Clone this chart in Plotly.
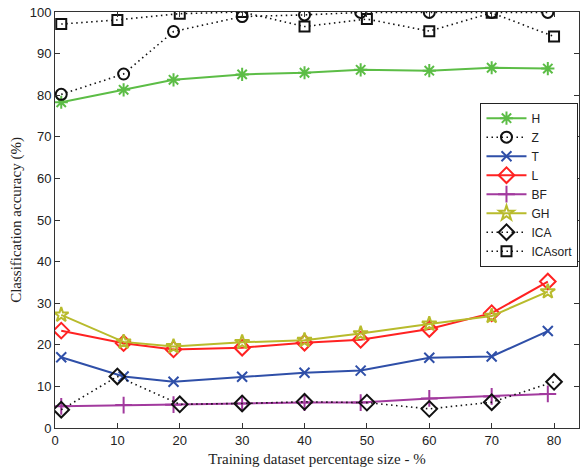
import plotly.graph_objects as go

# Training set sizes (%) for the two groups of methods
x_main = [1, 11, 19, 30, 40, 49, 60, 70, 79]
x_ica = [1, 10, 20, 30, 40, 50, 60, 70, 80]

# Classification accuracy (%) per method
acc_H = [78.3, 81.3, 83.7, 85.0, 85.4, 86.1, 85.9, 86.6, 86.4]
acc_Z = [80.2, 85.1, 95.3, 98.9, 99.3, 99.9, 99.9, 99.9, 99.9]
acc_T = [17.0, 12.4, 11.1, 12.3, 13.3, 13.8, 16.9, 17.2, 23.3]
acc_L = [23.4, 20.4, 18.9, 19.3, 20.5, 21.2, 23.8, 27.6, 35.2]
acc_BF = [5.2, 5.5, 5.6, 5.9, 6.1, 6.1, 7.1, 7.6, 8.2]
acc_GH = [27.2, 20.7, 19.6, 20.6, 21.1, 22.7, 25.0, 26.9, 32.8]
acc_ICA = [4.4, 12.4, 5.7, 5.9, 6.3, 6.1, 4.6, 6.2, 11.1]
acc_ICAsort = [97.1, 98.1, 99.6, 100.0, 96.5, 98.3, 95.4, 99.8, 94.1]

DOTTED = "1.5px,3.5px"

series = [
    ("H", x_main, acc_H, "#5cbd46", "solid", "asterisk-open", 11),
    ("Z", x_main, acc_Z, "#111111", DOTTED, "circle-open", 11),
    ("T", x_main, acc_T, "#2f4fa8", "solid", "x-thin-open", 10),
    ("L", x_main, acc_L, "#ff2222", "solid", "diamond-open", 12),
    ("BF", x_main, acc_BF, "#a23a9e", "solid", "cross-thin-open", 12),
    ("GH", x_main, acc_GH, "#b8bb2c", "solid", "star-open", 11),
    ("ICA", x_ica, acc_ICA, "#111111", DOTTED, "diamond-open", 12),
    ("ICAsort", x_ica, acc_ICAsort, "#111111", DOTTED, "square-open", 10),
]

fig = go.Figure()
for name, xs, ys, color, dash, symbol, size in series:
    fig.add_trace(go.Scatter(
        x=xs, y=ys, name=name, mode="lines+markers",
        line=dict(color=color, width=2 if dash == "solid" else 1.6, dash=dash),
        marker=dict(symbol=symbol, size=size, color=color,
                    line=dict(color=color, width=2)),
    ))

tick_font = dict(family="Liberation Sans Narrow, Liberation Sans, Arial",
                 size=13, color="#222222")
title_font = dict(family="Liberation Serif, Times New Roman",
                  size=15, color="#222222")

axis_common = dict(
    showgrid=False, zeroline=False, showline=True, linecolor="#333333",
    linewidth=1, mirror="ticks", ticks="inside", ticklen=5,
    tickcolor="#333333", tickfont=tick_font,
)

fig.update_xaxes(range=[0, 84], tickvals=[0, 10, 20, 30, 40, 50, 60, 70, 80],
                 title=dict(text="Training dataset percentage size - %",
                            font=title_font, standoff=6),
                 **axis_common)
fig.update_yaxes(range=[0, 100], tickvals=list(range(0, 101, 10)),
                 title=dict(text="Classification accuracy (%)",
                            font=title_font, standoff=4),
                 **axis_common)

fig.update_layout(
    width=582, height=472,
    margin=dict(l=55, r=3, t=12, b=44),
    paper_bgcolor="white", plot_bgcolor="white",
    legend=dict(x=0.812, y=0.782, xanchor="left", yanchor="top",
                bgcolor="white", bordercolor="#222222", borderwidth=1,
                font=dict(family="Liberation Sans, Arial", size=12, color="#222222"),
                tracegroupgap=0, itemwidth=40),
    showlegend=True,
)

fig.write_html("out.html")
